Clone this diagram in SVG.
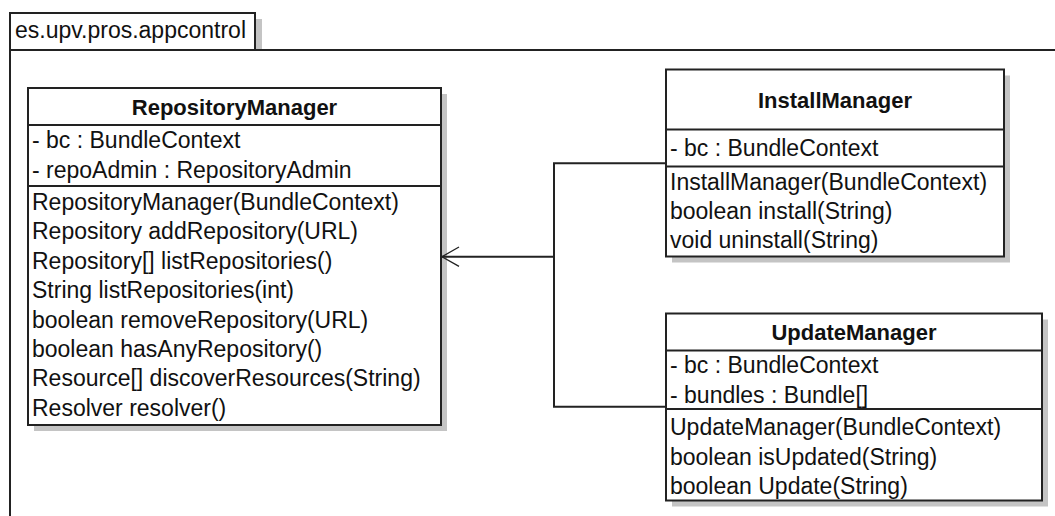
<svg xmlns="http://www.w3.org/2000/svg" width="1055" height="516" viewBox="0 0 1055 516">
<style>
.box{fill:#fff;stroke:#222;stroke-width:2}
.shadow{fill:#c4c4c4}
.sep{stroke:#222;stroke-width:2}
.t{font-family:"Liberation Sans",Arial,sans-serif;font-size:23px;fill:#111}
.title{font-family:"Liberation Sans",Arial,sans-serif;font-size:22px;font-weight:bold;fill:#111;text-anchor:middle}
.conn{fill:none;stroke:#222;stroke-width:2}
.head{fill:none;stroke:#222;stroke-width:1.3}
</style>
<rect width="1055" height="516" fill="#fff"/>
<g id="package">
  <rect class="shadow" x="256" y="19" width="6" height="31"/>
  <rect class="box" x="10" y="13" width="245" height="37"/>
  <path class="conn" d="M10,50 H1056 M10,50 V517"/>
  <text class="t" x="15" y="38">es.upv.pros.appcontrol</text>
</g>
<g id="RepositoryManager">
  <rect class="shadow" x="34" y="94" width="413" height="337"/>
  <rect class="box" x="28" y="88" width="413" height="337"/>
  <line class="sep" x1="28" y1="125" x2="441" y2="125"/>
  <line class="sep" x1="28" y1="186" x2="441" y2="186"/>
  <text class="title" x="234.5" y="115">RepositoryManager</text>
  <text class="t" x="32" y="148">- bc : BundleContext</text>
  <text class="t" x="32" y="177.5">- repoAdmin : RepositoryAdmin</text>
  <text class="t" x="32" y="210">RepositoryManager(BundleContext)</text>
  <text class="t" x="32" y="239.4">Repository addRepository(URL)</text>
  <text class="t" x="32" y="268.8">Repository[] listRepositories()</text>
  <text class="t" x="32" y="298.2">String listRepositories(int)</text>
  <text class="t" x="32" y="327.6">boolean removeRepository(URL)</text>
  <text class="t" x="32" y="357">boolean hasAnyRepository()</text>
  <text class="t" x="32" y="386.4">Resource[] discoverResources(String)</text>
  <text class="t" x="32" y="415.8">Resolver resolver()</text>
</g>
<g id="InstallManager">
  <rect class="shadow" x="672" y="75.5" width="338" height="187"/>
  <rect class="box" x="666" y="69.5" width="338" height="187"/>
  <line class="sep" x1="666" y1="129.5" x2="1004" y2="129.5"/>
  <line class="sep" x1="666" y1="166.5" x2="1004" y2="166.5"/>
  <text class="title" x="835" y="107.5">InstallManager</text>
  <text class="t" x="670" y="156">- bc : BundleContext</text>
  <text class="t" x="670" y="190">InstallManager(BundleContext)</text>
  <text class="t" x="670" y="219">boolean install(String)</text>
  <text class="t" x="670" y="248">void uninstall(String)</text>
</g>
<g id="UpdateManager">
  <rect class="shadow" x="672" y="319.5" width="376" height="187"/>
  <rect class="box" x="666" y="313.5" width="376" height="187"/>
  <line class="sep" x1="666" y1="350.5" x2="1042" y2="350.5"/>
  <line class="sep" x1="666" y1="409" x2="1042" y2="409"/>
  <text class="title" x="854" y="340">UpdateManager</text>
  <text class="t" x="670" y="373.3">- bc : BundleContext</text>
  <text class="t" x="670" y="402.7">- bundles : Bundle[]</text>
  <text class="t" x="670" y="435">UpdateManager(BundleContext)</text>
  <text class="t" x="670" y="464.5">boolean isUpdated(String)</text>
  <text class="t" x="670" y="494">boolean Update(String)</text>
</g>
<g id="connectors">
  <path class="conn" d="M666,163.3 H554 V406.7 H666"/>
  <path class="conn" d="M554,256.7 H442"/>
  <path class="head" d="M459,247 L442,256.7 L459,266.4"/>
</g>
</svg>
